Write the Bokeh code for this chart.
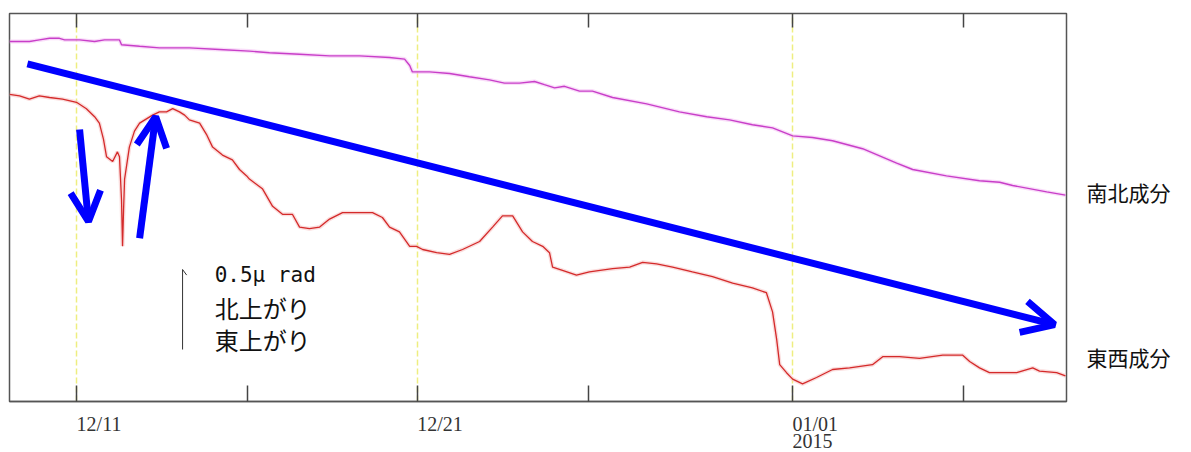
from bokeh.plotting import figure
from bokeh.models import (Range1d, FixedTicker, LinearAxis, Label, Arrow, OpenHead,
                          ColumnDataSource)
from bokeh.embed import file_html
from bokeh.resources import INLINE

# time in days since 2014-12-11 00:00, tilt in micro-radian (arbitrary offset)
ns_days = [-1.965, -1.67, -1.38, -1.09, -0.79, -0.50, -0.35, 0.09, 0.53, 0.82, 1.11, 1.26,
           1.32, 1.85, 2.43, 3.31, 4.19, 5.07, 5.66, 6.54, 7.42, 8.30, 9.18, 9.62, 9.77,
           9.85, 10.35, 10.94, 11.52, 12.11, 12.55, 12.99, 13.43, 13.72, 14.02, 14.31,
           14.75, 15.13, 15.72, 16.72, 17.68, 18.48, 19.15, 19.82, 20.41, 21.00, 21.58,
           22.17, 23.05, 24.05, 24.52, 25.51, 26.48, 27.07, 27.45, 28.45, 29.00]
ns_vals = [2.25, 2.25, 2.25, 2.26, 2.27, 2.27, 2.26, 2.26, 2.25, 2.26, 2.26, 2.26,
           2.23, 2.22, 2.21, 2.21, 2.20, 2.19, 2.18, 2.17, 2.16, 2.16, 2.15, 2.14, 2.10,
           2.06, 2.06, 2.05, 2.03, 2.01, 1.99, 1.99, 2.00, 1.98, 1.96, 1.97,
           1.94, 1.94, 1.90, 1.86, 1.81, 1.78, 1.76, 1.73, 1.71, 1.66, 1.65,
           1.63, 1.58, 1.49, 1.45, 1.41, 1.38, 1.37, 1.35, 1.31, 1.29]

ew_days = [-1.965, -1.67, -1.38, -1.09, -0.79, -0.41, 0.00, 0.29, 0.53, 0.67, 0.79, 0.88,
           1.06, 1.20, 1.26, 1.32, 1.35, 1.38, 1.41, 1.55, 1.70, 1.85, 2.23, 2.43, 2.64,
           2.82, 3.02, 3.17, 3.31, 3.61, 3.81, 3.99, 4.28, 4.57, 4.78, 4.99, 5.07, 5.45,
           5.75, 6.04, 6.33, 6.54, 6.83, 7.13, 7.42, 7.80, 8.21, 8.68, 8.97, 9.18, 9.47,
           9.77, 9.97, 10.15, 10.56, 10.94, 11.32, 11.82, 12.20, 12.49, 12.79, 13.08,
           13.37, 13.67, 13.87, 13.96, 14.25, 14.66, 15.04, 15.72, 16.22, 16.60, 17.01,
           17.48, 18.06, 18.65, 19.24, 19.82, 20.23, 20.41, 20.53, 20.62, 20.82, 21.00,
           21.29, 21.70, 22.17, 22.67, 23.34, 23.64, 24.13, 24.72, 25.40, 25.98, 26.19,
           26.48, 26.77, 27.07, 27.57, 28.04, 28.24, 28.74, 29.00]
ew_vals = [1.92, 1.91, 1.89, 1.91, 1.90, 1.89, 1.87, 1.83, 1.78, 1.74, 1.64, 1.53,
           1.50, 1.56, 1.53, 1.26, 0.97, 1.20, 1.39, 1.59, 1.69, 1.74, 1.79, 1.81, 1.81,
           1.83, 1.81, 1.79, 1.76, 1.74, 1.67, 1.59, 1.54, 1.51, 1.45, 1.41, 1.39, 1.33,
           1.22, 1.17, 1.17, 1.09, 1.08, 1.09, 1.14, 1.18, 1.18, 1.18, 1.15, 1.09, 1.06,
           0.97, 0.97, 0.95, 0.93, 0.92, 0.95, 1.00, 1.09, 1.16, 1.16, 1.06,
           1.00, 0.97, 0.93, 0.84, 0.82, 0.79, 0.81, 0.83, 0.84, 0.87, 0.86,
           0.84, 0.81, 0.78, 0.74, 0.71, 0.68, 0.56, 0.39, 0.23, 0.18, 0.14,
           0.11, 0.15, 0.20, 0.21, 0.23, 0.28, 0.28, 0.27, 0.29, 0.29, 0.25,
           0.21, 0.18, 0.18, 0.18, 0.21, 0.19, 0.18, 0.16]

tick_days = [0, 5, 10, 15, 21, 26]
label_days = [0, 10, 21]
date_labels = ["12/11", "12/21", "01/01"]
year_day = 21
year_label = "2015"
grid_days = [0, 10, 21]

series_names = ["南北成分", "東西成分"]
series_label_pos = [1.31, 0.28]

# annotation arrows (start x, start y, end x, end y) in data units
trend_arrow = [-1.44, 2.11, 28.68, 0.48]
down_arrow = [0.09, 1.70, 0.35, 1.125]
up_arrow = [1.85, 1.02, 2.32, 1.78]
scale_bar = [3.11, 0.325, 0.825]  # x, y bottom, y top (0.5 micro-rad)

LABEL_SHIFT = 0.66      # the original prints each date starting at its tick
YEAR_SHIFT = 0.58

p = figure(width=1187, height=450, x_range=Range1d(-1.965, 29.03), y_range=Range1d(0, 2.425),
           output_backend="svg", toolbar_location=None, y_axis_location=None,
           min_border_left=9, min_border_right=121, min_border_top=13, min_border_bottom=45)
p.background_fill_color = "white"
p.border_fill_color = "white"
p.outline_line_color = "#555555"
p.outline_line_width = 1.5

# tick marks only
p.xaxis.ticker = FixedTicker(ticks=tick_days)
p.xaxis.major_label_overrides = {d: "" for d in tick_days}
p.xaxis.major_label_text_font_size = "0px"
p.xaxis.major_label_standoff = 0
p.xaxis.major_tick_in = 16
p.xaxis.major_tick_out = 0
p.xaxis.minor_tick_line_color = None
p.xaxis.major_tick_line_color = "#444444"
p.xaxis.major_tick_line_width = 1.5
p.xaxis.axis_line_color = "#555555"
p.xaxis.axis_line_width = 1.5

label_ticks = [d + LABEL_SHIFT for d in label_days]
date_axis = LinearAxis(ticker=FixedTicker(ticks=label_ticks),
                       major_label_overrides={t: l for t, l in zip(label_ticks, date_labels)},
                       major_tick_line_color=None, minor_tick_line_color=None,
                       axis_line_color=None, major_label_standoff=5,
                       major_label_text_font="Liberation Serif",
                       major_label_text_font_size="20px", major_label_text_color="#333333")
p.add_layout(date_axis, "below")

yt = year_day + YEAR_SHIFT
year_axis = LinearAxis(ticker=FixedTicker(ticks=[yt]),
                       major_label_overrides={yt: year_label},
                       major_tick_line_color=None, minor_tick_line_color=None,
                       axis_line_color=None, major_label_standoff=-10,
                       major_label_text_font="Liberation Serif",
                       major_label_text_font_size="20px", major_label_text_color="#333333")
p.add_layout(year_axis, "below")

top = LinearAxis(ticker=FixedTicker(ticks=tick_days), major_tick_in=14, major_tick_out=0,
                 minor_tick_line_color=None, major_label_text_font_size="0px",
                 major_label_standoff=0, axis_line_color="#555555",
                 major_tick_line_color="#444444", major_tick_line_width=1.5,
                 major_label_overrides={d: "" for d in tick_days})
p.add_layout(top, "above")

right = LinearAxis(ticker=FixedTicker(ticks=series_label_pos),
                   major_label_overrides={v: n for v, n in zip(series_label_pos, series_names)},
                   major_tick_line_color=None, minor_tick_line_color=None,
                   axis_line_color=None, major_label_standoff=14,
                   major_label_text_font="Noto Sans CJK JP", major_label_text_font_size="21px",
                   major_label_text_color="#111111")
p.add_layout(right, "right")

p.xgrid.ticker = FixedTicker(ticks=grid_days)
p.xgrid.grid_line_color = "#eeee80"
p.xgrid.grid_line_width = 1.5
p.xgrid.grid_line_dash = "6 3"
p.ygrid.visible = False

ns = ColumnDataSource(dict(x=ns_days, y=ns_vals))
ew = ColumnDataSource(dict(x=ew_days, y=ew_vals))
p.line("x", "y", source=ns, line_color="#f5c4f5", line_width=4, line_alpha=0.6)
p.line("x", "y", source=ns, line_color="#c83ec8", line_width=1.4)
p.line("x", "y", source=ew, line_color="#f7c6c6", line_width=4, line_alpha=0.6)
p.line("x", "y", source=ew, line_color="#d42a2a", line_width=1.3)

# scale bar
p.line([scale_bar[0], scale_bar[0]], [scale_bar[1], scale_bar[2]], line_color="#333333", line_width=1)
p.line([scale_bar[0], scale_bar[0] + 0.12], [scale_bar[2], scale_bar[2] - 0.035],
       line_color="#333333", line_width=1)

for a, sz in ((trend_arrow, 32), (down_arrow, 30), (up_arrow, 30)):
    p.add_layout(Arrow(end=OpenHead(size=sz, line_width=7, line_color="#0000ff"),
                       x_start=a[0], y_start=a[1], x_end=a[2], y_end=a[3],
                       line_width=7, line_color="#0000ff"))

texts = [("0.5μ rad", 4.05, 0.79, "DejaVu Sans Mono", "21px"),
         ("北上がり", 4.05, 0.59, "Noto Sans CJK JP", "24px"),
         ("東上がり", 4.05, 0.39, "Noto Sans CJK JP", "24px")]
for t, x, y, f, s in texts:
    p.add_layout(Label(x=x, y=y, text=t, text_font=f, text_font_size=s,
                       text_color="#111111", text_baseline="middle", text_align="left"))

open("out.html", "w").write(file_html(p, INLINE))
